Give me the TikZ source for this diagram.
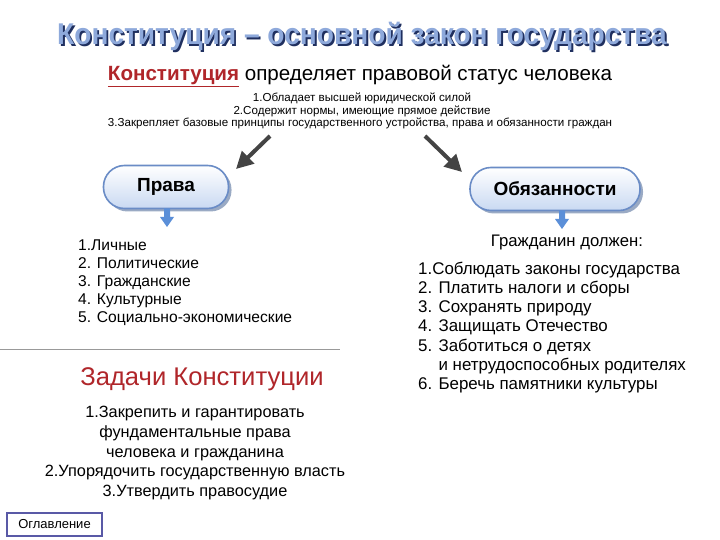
\documentclass[tikz,border=0pt]{standalone}
\usepackage{fontspec}
\setmainfont{Liberation Sans}
\usetikzlibrary{arrows.meta}
\definecolor{titlefront}{HTML}{8EA9DB}
\definecolor{titleback}{HTML}{1F2F5F}
\definecolor{konred}{HTML}{B0262A}
\definecolor{pillborder}{HTML}{6A8CC6}
\definecolor{pillshadow}{HTML}{9AAAC4}
\definecolor{pillbottom}{HTML}{C9D9F2}
\definecolor{bluearrow}{HTML}{5B8FD8}
\definecolor{darkarrow}{HTML}{444444}
\newcommand{\titletxt}{Конституция – основной закон государства}
\tikzset{
  pill/.style={draw=pillborder, line width=1.6pt, rounded corners=21pt, top color=white, bottom color=pillbottom, minimum height=43pt, font=\fontsize{19}{21}\selectfont\bfseries},
  pillshad/.style={fill=pillshadow, rounded corners=21pt, minimum height=43pt, draw=none},
  bigarrow/.style={draw=darkarrow, line width=4pt, -{Triangle[length=17pt,width=17pt]}},
  listtext/.style={align=left, anchor=north west, inner sep=0pt},
}
\begin{document}
\begin{tikzpicture}[x=1pt,y=-1pt]
\useasboundingbox[fill=white] (0,0) rectangle (720,540);
% title with shadow
\node[font=\fontsize{30}{32}\selectfont\bfseries] (title) at (362,37) {\scalebox{0.937}[1]{\makebox[0pt][l]{\hspace{2pt}\raisebox{-2pt}{\textcolor{titleback}{\titletxt}}}\textcolor{titlefront}{\titletxt}}};
% subtitle
\node[font=\fontsize{20.6}{24}\selectfont] (sub) at (360,76) {\textcolor{konred}{\bfseries\underline{Конституция}} определяет правовой статус человека};
\node[font=\fontsize{11.6}{13}\selectfont, inner sep=0pt] (p1) at (362,98) {1.Обладает высшей юридической силой};
\node[font=\fontsize{11.6}{13}\selectfont, inner sep=0pt] (p2) at (362,111) {2.Содержит нормы, имеющие прямое действие};
\node[font=\fontsize{11.6}{13}\selectfont, inner sep=0pt] (p3) at (360,123) {3.Закрепляет базовые принципы государственного устройства, права и обязанности граждан};
% arrows
\coordinate (la1) at (270,136);
\coordinate (la2) at (236,169);
\coordinate (ra1) at (425,136);
\coordinate (ra2) at (462,172);
\draw[bigarrow] (la1) -- (la2);
\draw[bigarrow] (ra1) -- (ra2);
% pills
\node[pillshad, minimum width=125pt] (prs) at (169,190) {};
\node[pill, minimum width=125pt] (prava) at (166,187) {Права};
\node[pillshad, minimum width=170pt] (obs) at (558,192) {};
\node[pill, minimum width=170pt] (obyaz) at (555,189) {Обязанности};
% small blue arrows
\fill[bluearrow] (164,208.5) -- (170,208.5) -- (170,217) -- (174,217) -- (167,227) -- (160,217) -- (164,217) -- cycle;
\fill[bluearrow] (559,210.5) -- (565,210.5) -- (565,219) -- (569,219) -- (562,229) -- (555,219) -- (559,219) -- cycle;
% rights list
\node[listtext, font=\fontsize{15.6}{18}\selectfont] (rlist) at (78,239.5) {1.Личные\\2. Политические\\3. Гражданские\\4. Культурные\\5. Социально-экономические};
% duties
\node[font=\fontsize{16.7}{19}\selectfont] (gd) at (567,242) {Гражданин должен:};
\node[listtext, font=\fontsize{16.9}{19.3}\selectfont] (dlist) at (418,261.5) {1.Соблюдать законы государства\\2. Платить налоги и сборы\\3. Сохранять природу\\4. Защищать Отечество\\5. Заботиться о детях\\\phantom{5. }и нетрудоспособных родителях\\6. Беречь памятники культуры};
% separator
\coordinate (s1) at (0,349);
\coordinate (s2) at (340,349);
\draw[gray!80, line width=1pt] (s1) -- (s2);
% tasks
\node[text=konred, font=\fontsize{25.6}{30}\selectfont] (zad) at (202,379) {Задачи Конституции};
\node[align=center, font=\fontsize{16.3}{19.6}\selectfont, anchor=north] (tasks) at (195,403) {1.Закрепить и гарантировать\\фундаментальные права\\человека и гражданина\\2.Упорядочить государственную власть\\3.Утвердить правосудие};
% toc button
\node[draw=gray!70!blue, line width=1.2pt, minimum width=95pt, minimum height=23pt, inner sep=0pt, font=\fontsize{13}{15}\selectfont] (toc) at (54.5,524.5) {Оглавление};
\end{tikzpicture}
\end{document}
